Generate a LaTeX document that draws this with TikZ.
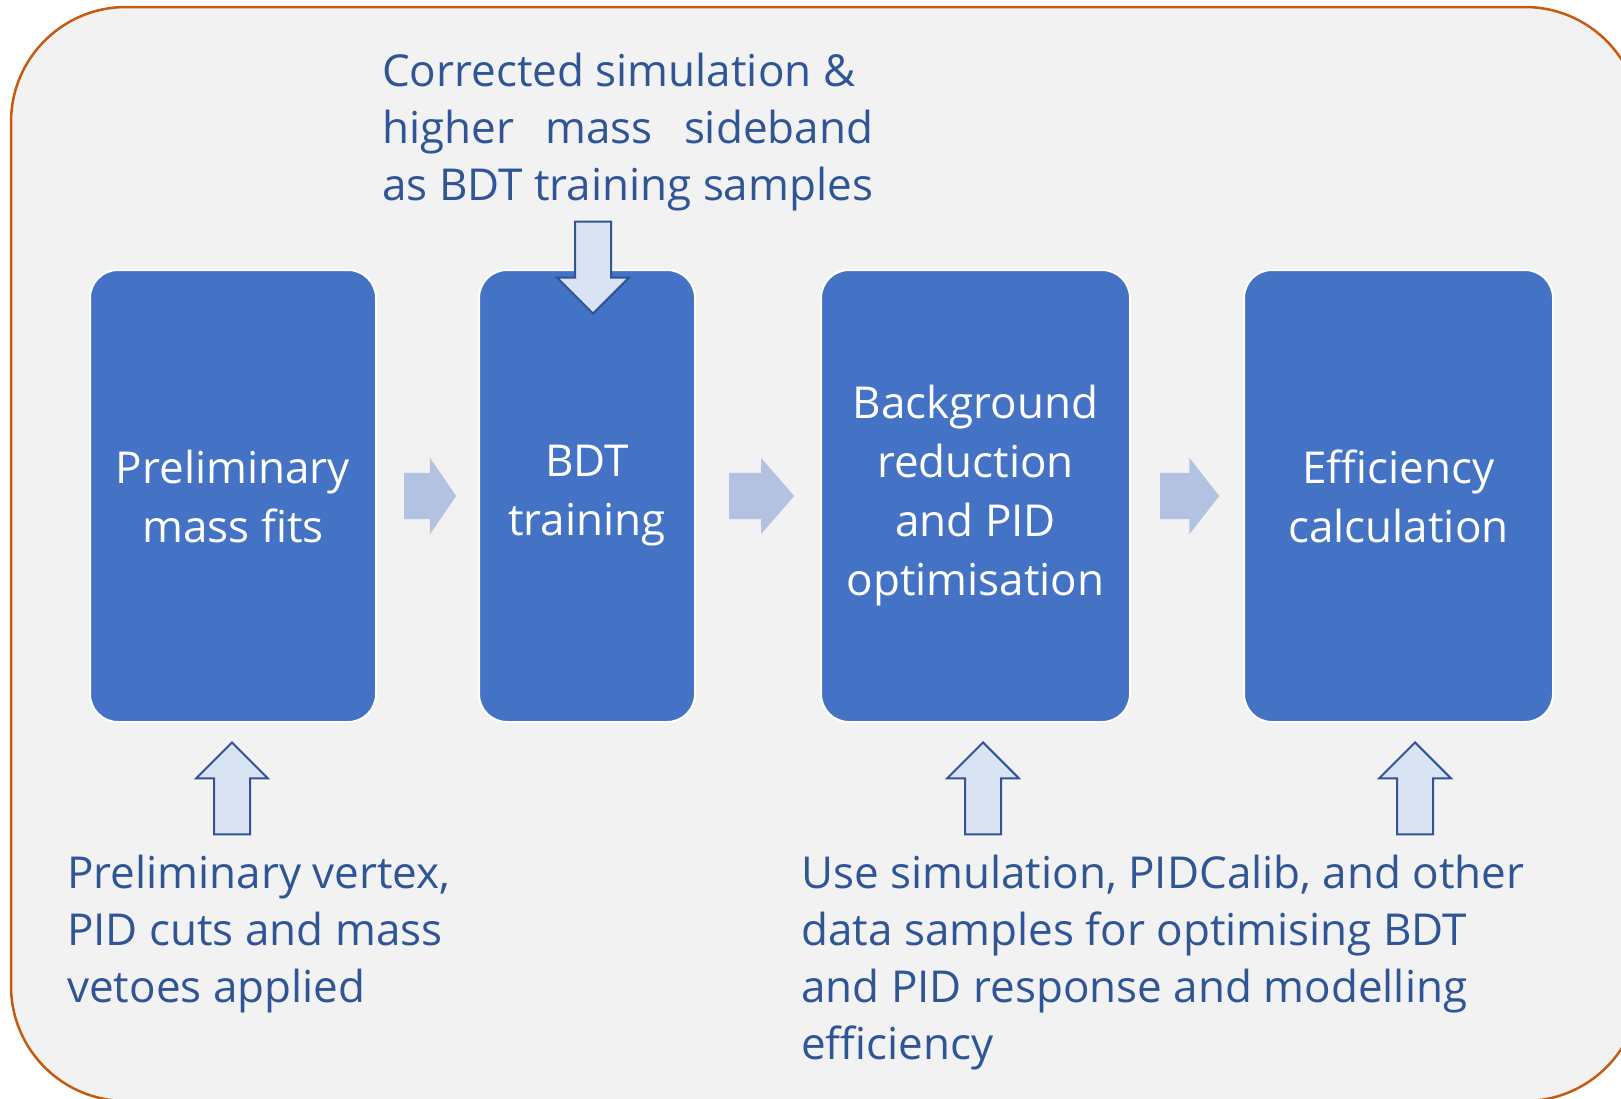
\documentclass[tikz,border=0pt]{standalone}
\usepackage{fontspec}
\setmainfont{Open Sans}
\usepackage{calc}
\usetikzlibrary{shapes.arrows,calc}

\definecolor{panelgray}{HTML}{F2F2F2}
\definecolor{frameorange}{HTML}{C55A11}
\definecolor{stageblue}{HTML}{4472C4}
\definecolor{flowblue}{HTML}{B4C2E1}
\definecolor{inputfill}{HTML}{DAE3F3}
\definecolor{notetext}{HTML}{2F5597}

\begin{document}
\begin{tikzpicture}[x=1pt, y=-1pt,
		stage/.style={
			rectangle, rounded corners=28pt, draw=white, line width=2pt,
			fill=stageblue, text=white, align=center, inner sep=0pt,
			minimum height=452pt, font=\fontsize{44}{59}\selectfont
		},
		flow/.style={
			single arrow, fill=flowblue, draw=none, inner xsep=0pt, inner ysep=23pt,
			single arrow head extend=15pt, anchor=tail
		},
		input/.style={
			single arrow, fill=inputfill, draw=notetext, line width=2pt,
			inner xsep=0pt, inner ysep=17pt, single arrow head extend=18pt,
			single arrow tip angle=90, minimum height=92pt, anchor=tip
		},
		note/.style={
			text=notetext, align=left, inner sep=0pt, anchor=north west,
			font=\fontsize{44}{57}\selectfont
		}
	]
	\clip (0,0) rectangle (1621,1098);
	\fill[white] (0,0) rectangle (1621,1098);
	\draw[fill=panelgray, draw=frameorange, line width=2.5pt, rounded corners=115pt]
		(11,7) rectangle (1640,1101);

	\node[stage, minimum width=286pt] (prelim) at (233,496) {Preliminary\\mass fits};
	\node[stage, minimum width=216pt] (bdt) at (587,496) {BDT\\training};
	\node[stage, minimum width=309pt] (bgred) at (975.5,496) {Background\\reduction\\and PID\\optimisation};
	\node[stage, minimum width=309pt] (effcalc) at (1398.5,496) {Efficiency\\calculation};

	\node[flow, minimum height=52pt, single arrow tip angle=111] (f1) at ($(prelim.east)+(27,0)$) {};
	\node[flow, minimum height=65pt, single arrow tip angle=98] (f2) at ($(bdt.east)+(33,0)$) {};
	\node[flow, minimum height=59pt, single arrow tip angle=104] (f3) at ($(bgred.east)+(29,0)$) {};

	\node[input, rotate=-90] (inbdt) at ($(bdt.north)+(6,46)$) {};
	\node[input, rotate=90] (inpre) at ($(prelim.south)+(-1,18)$) {};
	\node[input, rotate=90] (inbg) at ($(bgred.south)+(7.5,18)$) {};
	\node[input, rotate=90] (ineff) at ($(effcalc.south)+(16.5,18)$) {};

	\node[note] (notebdt) at (382,53) {Corrected simulation \&\\
		\makebox[\widthof{as BDT training samples}][s]{higher mass sideband}\\
		as BDT training samples};
	\node[note] (notepre) at (67,855) {Preliminary vertex,\\PID cuts and mass\\vetoes applied};
	\node[note] (noteeff) at (801,855) {Use simulation, PIDCalib, and other\\data samples for optimising BDT\\and PID response and modelling\\efficiency};
\end{tikzpicture}
\end{document}
